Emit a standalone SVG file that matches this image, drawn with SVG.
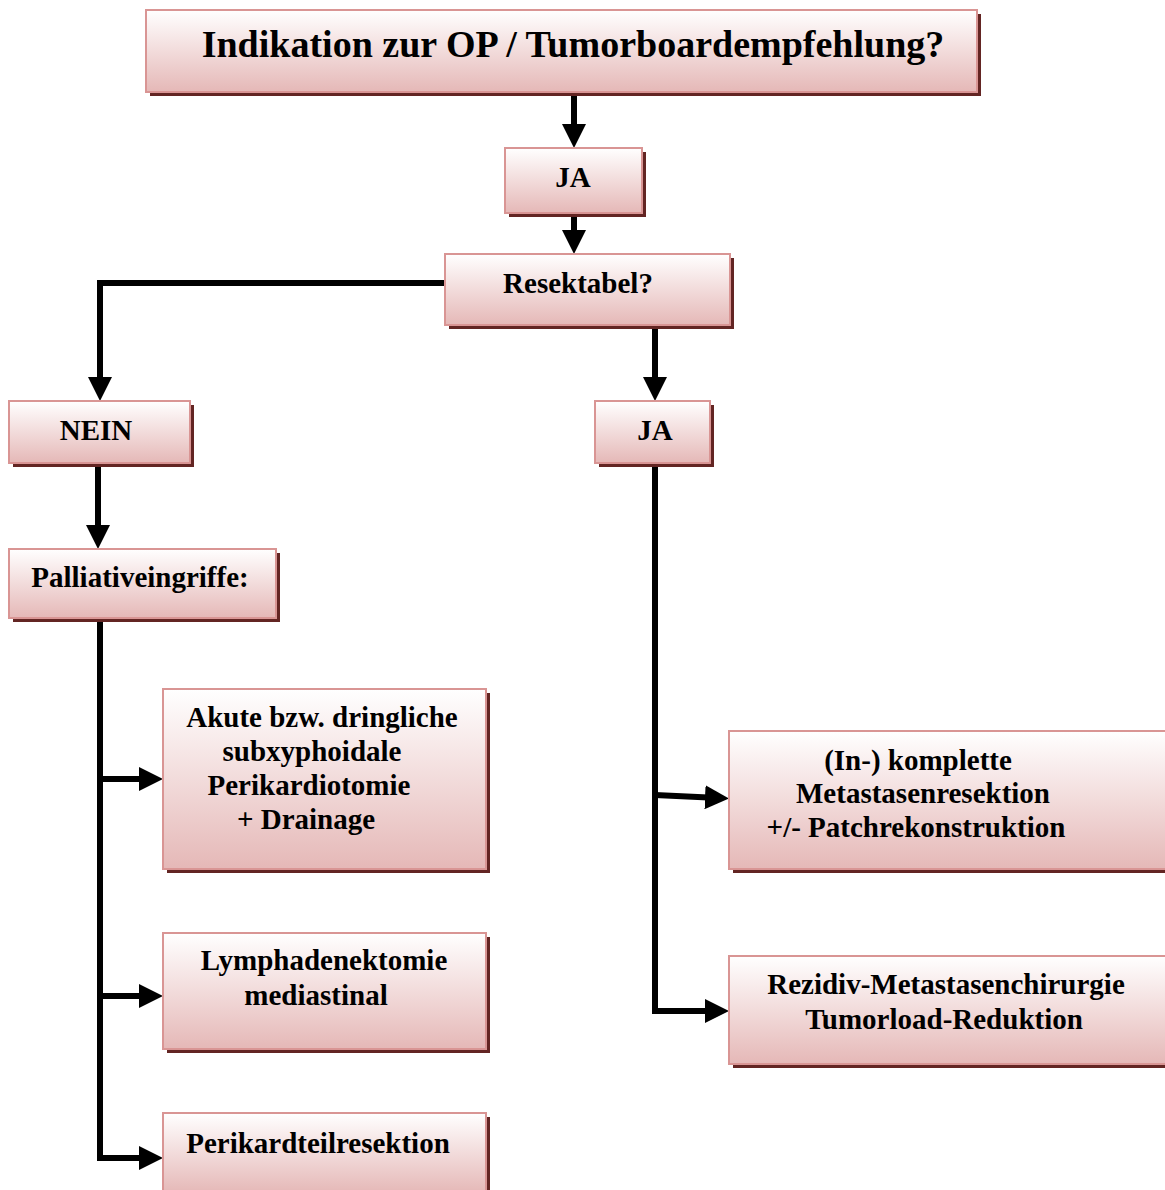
<svg xmlns="http://www.w3.org/2000/svg" width="1165" height="1190" viewBox="0 0 1165 1190">
<defs>
<linearGradient id="g" x1="0" y1="0" x2="0" y2="1">
<stop offset="0" stop-color="#ffffff"/>
<stop offset="1" stop-color="#e5b8b7"/>
</linearGradient>
<marker id="ah" markerUnits="userSpaceOnUse" markerWidth="24" markerHeight="24" refX="14" refY="12" orient="auto">
<path d="M0,0 L24,12 L0,24 z" fill="#000"/>
</marker>
<style>
.sh{fill:#632523}
.bx{fill:url(#g);stroke:#d99594;stroke-width:2}
.t{font-family:"Liberation Serif","Times New Roman",serif;font-weight:bold;font-size:29px;fill:#000;text-anchor:middle}
.c{fill:none;stroke:#000;stroke-width:6;stroke-linejoin:miter}
</style>
</defs>
<rect width="1165" height="1190" fill="#fff"/>
<g id="connectors">
<line class="c" x1="574" y1="92" x2="574" y2="138" marker-end="url(#ah)"/>
<line class="c" x1="574" y1="213" x2="574" y2="244" marker-end="url(#ah)"/>
<polyline class="c" points="445,283 100,283 100,391" marker-end="url(#ah)"/>
<line class="c" x1="655" y1="325" x2="655" y2="391" marker-end="url(#ah)"/>
<line class="c" x1="98" y1="463" x2="98" y2="539" marker-end="url(#ah)"/>
<polyline class="c" points="100,618 100,1158 153,1158" marker-end="url(#ah)"/>
<line class="c" x1="100" y1="779" x2="153" y2="779" marker-end="url(#ah)"/>
<line class="c" x1="100" y1="996" x2="153" y2="996" marker-end="url(#ah)"/>
<polyline class="c" points="655,463 655,1011 719,1011" marker-end="url(#ah)"/>
<line class="c" x1="655" y1="795" x2="719" y2="798" marker-end="url(#ah)"/>
</g>
<g id="n1"><rect class="sh" x="150" y="14" width="831" height="82"/><rect class="bx" x="146" y="10" width="831" height="82"/><text class="t" x="573" y="57" style="font-size:38px">Indikation zur OP / Tumorboardempfehlung?</text></g>
<g id="n2"><rect class="sh" x="509" y="152" width="137" height="65"/><rect class="bx" x="505" y="148" width="137" height="65"/><text class="t" x="573" y="187">JA</text></g>
<g id="n3"><rect class="sh" x="449" y="258" width="285" height="71"/><rect class="bx" x="445" y="254" width="285" height="71"/><text class="t" x="578" y="293">Resektabel?</text></g>
<g id="n4"><rect class="sh" x="13" y="405" width="181" height="62"/><rect class="bx" x="9" y="401" width="181" height="62"/><text class="t" x="96" y="440">NEIN</text></g>
<g id="n5"><rect class="sh" x="599" y="405" width="115" height="62"/><rect class="bx" x="595" y="401" width="115" height="62"/><text class="t" x="655" y="440">JA</text></g>
<g id="n6"><rect class="sh" x="13" y="553" width="267" height="69"/><rect class="bx" x="9" y="549" width="267" height="69"/><text class="t" x="140" y="587">Palliativeingriffe:</text></g>
<g id="n7"><rect class="sh" x="167" y="693" width="323" height="180"/><rect class="bx" x="163" y="689" width="323" height="180"/><text class="t"><tspan x="322" y="727">Akute bzw. dringliche</tspan><tspan x="312" y="761">subxyphoidale</tspan><tspan x="309" y="795">Perikardiotomie</tspan><tspan x="306" y="829">+ Drainage</tspan></text></g>
<g id="n8"><rect class="sh" x="167" y="937" width="323" height="116"/><rect class="bx" x="163" y="933" width="323" height="116"/><text class="t"><tspan x="324" y="970">Lymphadenektomie</tspan><tspan x="316" y="1005">mediastinal</tspan></text></g>
<g id="n9"><rect class="sh" x="167" y="1117" width="323" height="80"/><rect class="bx" x="163" y="1113" width="323" height="80"/><text class="t" x="318" y="1153">Perikardteilresektion</text></g>
<g id="n10"><rect class="sh" x="733" y="735" width="440" height="138"/><rect class="bx" x="729" y="731" width="440" height="138"/><text class="t"><tspan x="918" y="770">(In-) komplette</tspan><tspan x="923" y="803">Metastasenresektion</tspan><tspan x="916" y="837">+/- Patchrekonstruktion</tspan></text></g>
<g id="n11"><rect class="sh" x="733" y="960" width="440" height="108"/><rect class="bx" x="729" y="956" width="440" height="108"/><text class="t"><tspan x="946" y="994">Rezidiv-Metastasenchirurgie</tspan><tspan x="944" y="1029">Tumorload-Reduktion</tspan></text></g>
</svg>
